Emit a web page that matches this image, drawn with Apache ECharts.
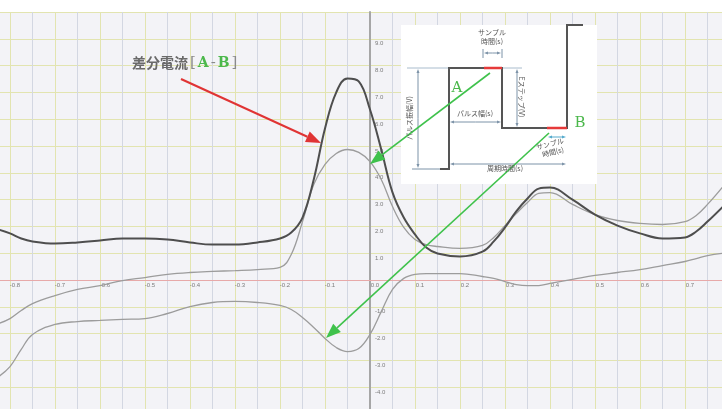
<!DOCTYPE html>
<html>
<head>
<meta charset="utf-8">
<script src="https://cdn.jsdelivr.net/npm/echarts@6.0.0/dist/echarts.min.js"></script>
<style>
  html, body { margin: 0; padding: 0; background: #fff; }
  #chart { width: 722px; height: 409px; }
</style>
</head>
<body>
<div id="chart"></div>
<script>
// 電位 (V)
const potential = [-0.825, -0.8, -0.775, -0.75, -0.7, -0.65, -0.6, -0.55, -0.5, -0.45, -0.4, -0.35, -0.3, -0.25,
  -0.2, -0.175, -0.15, -0.125, -0.1, -0.075, -0.05, -0.025, 0, 0.025, 0.05, 0.075, 0.1, 0.125, 0.15, 0.2,
  0.25, 0.275, 0.3, 0.325, 0.35, 0.375, 0.4, 0.45, 0.5, 0.55, 0.6, 0.65, 0.7, 0.725, 0.75, 0.785]
// 差分電流 [A-B]
const diffCurrent = [1.88, 1.74, 1.55, 1.44, 1.36, 1.40, 1.47, 1.55, 1.55, 1.51, 1.40, 1.32, 1.32, 1.40,
  1.55, 1.77, 2.33, 3.75, 5.65, 7.0, 7.52, 7.41, 6.36, 4.87, 3.27, 2.33, 1.70, 1.21, 0.99, 0.88,
  1.06, 1.44, 1.96, 2.56, 3.04, 3.41, 3.45, 3.0, 2.44, 2.03, 1.74, 1.55, 1.59, 1.81, 2.18, 2.75]
// A点の電流
const currentA = [-1.62, -1.44, -1.14, -0.88, -0.58, -0.35, -0.21, -0.02, 0.09, 0.21, 0.28, 0.32, 0.35, 0.39,
  0.47, 0.95, 2.18, 3.56, 4.31, 4.72, 4.87, 4.76, 4.42, 3.75, 2.74, 1.96, 1.51, 1.32, 1.25, 1.18,
  1.29, 1.59, 2.03, 2.48, 2.89, 3.23, 3.26, 2.82, 2.44, 2.22, 2.11, 2.07, 2.18, 2.41, 2.82, 3.5]
// B点の電流
const currentB = [-3.6, -3.23, -2.59, -2.03, -1.66, -1.55, -1.51, -1.47, -1.44, -1.25, -0.99, -0.84, -0.80, -0.84,
  -0.95, -1.10, -1.40, -1.77, -2.18, -2.52, -2.67, -2.56, -2.03, -1.18, -0.35, 0.06, 0.21, 0.24, 0.24, 0.24,
  0.13, 0.06, -0.06, -0.17, -0.21, -0.21, -0.13, 0.02, 0.17, 0.28, 0.39, 0.54, 0.69, 0.80, 0.91, 1.00]

const toPairs = (ys) => potential.map((x, i) => [x, ys[i]])

function arrow(x1, y1, x2, y2, color, w, head) {
  const a = Math.atan2(y2 - y1, x2 - x1)
  const bx = x2 - head * Math.cos(a)
  const by = y2 - head * Math.sin(a)
  const nx = -Math.sin(a) * head * 0.38
  const ny = Math.cos(a) * head * 0.38
  return [
    { type: 'line', z: 100, shape: { x1: x1, y1: y1, x2: bx, y2: by }, style: { stroke: color, lineWidth: w } },
    { type: 'polygon', z: 100, shape: { points: [[x2, y2], [bx + nx, by + ny], [bx - nx, by - ny]] }, style: { fill: color } }
  ]
}

function seg(x1, y1, x2, y2, color, w) {
  return { type: 'line', z: 100, shape: { x1: x1, y1: y1, x2: x2, y2: y2 }, style: { stroke: color, lineWidth: w || 1 } }
}

// 両矢印 (寸法線)
function dim(x1, y1, x2, y2, color) {
  return [].concat(arrow((x1 + x2) / 2, (y1 + y2) / 2, x1, y1, color, 1, 4),
    arrow((x1 + x2) / 2, (y1 + y2) / 2, x2, y2, color, 1, 4))
}

function label(text, x, y, opt) {
  return Object.assign({
    type: 'text', z: 101, x: x, y: y,
    style: Object.assign({
      text: text, fontSize: 7, fill: '#555', align: 'center', verticalAlign: 'middle',
      fontFamily: 'Noto Sans CJK JP'
    }, opt && opt.style)
  }, opt && opt.el)
}

const dimColor = '#7d93a8'
const wave = '#555'
const green = '#3fc24c'

const inset = [
  { type: 'rect', z: 99, shape: { x: 401, y: 25, width: 196, height: 159 }, style: { fill: '#fff' } },
  seg(407, 68, 449, 68, '#a9bccd'),
  seg(502, 68, 522, 68, '#a9bccd'),
  seg(412, 169, 449, 169, dimColor),
  { type: 'polyline', z: 100, shape: { points: [[440, 169], [449, 169], [449, 68], [502, 68], [502, 128], [567, 128], [567, 25], [583, 25]] },
    style: { stroke: wave, lineWidth: 2, fill: null } },
  seg(484, 68, 502, 68, '#e63a3a', 2.5),
  seg(547, 128, 567, 128, '#e63a3a', 2.5),
  ...dim(418, 69, 418, 168, dimColor),
  ...dim(517, 69, 517, 127, dimColor),
  ...dim(450, 122, 501, 122, dimColor),
  ...dim(450, 164, 566, 164, dimColor),
  seg(483, 49, 483, 58, dimColor),
  seg(502, 49, 502, 58, dimColor),
  ...dim(484, 53, 501, 53, dimColor),
  ...dim(548, 137, 566, 137, '#55aacc'),
  label('サンプル', 492, 32),
  label('時間(s)', 492, 41),
  label('パルス幅(s)', 475, 113),
  label('周期時間(s)', 505, 168),
  label('パルス振幅(V)', 409, 118, { el: { rotation: Math.PI / 2 } }),
  label('Eステップ(V)', 522, 97, { el: { rotation: -Math.PI / 2 } }),
  label('サンプル', 550, 144, { el: { rotation: 0.25 } }),
  label('時間(s)', 553, 152, { el: { rotation: 0.25 } }),
  label('A', 457, 88, { style: { fontSize: 15, fill: '#4cb84c', fontFamily: 'DejaVu Serif' } }),
  label('B', 580, 123, { style: { fontSize: 15, fill: '#4cb84c', fontFamily: 'DejaVu Serif' } })
]

const notes = [
  ...arrow(181, 79, 321, 143, '#e03434', 2, 15),
  ...arrow(490, 73, 370, 164, green, 1.6, 15),
  ...arrow(549, 133, 326, 338, green, 1.6, 15),
  {
    type: 'text', z: 101, x: 132, y: 63,
    style: {
      text: '{g|差分電流}{b|[}{a|A}{b|-}{a|B}{b|]}',
      verticalAlign: 'middle',
      rich: {
        g: { fontSize: 14, fontWeight: 'bold', fill: '#6a6a6a', fontFamily: 'Noto Sans CJK JP' },
        b: { fontSize: 15, fill: '#8a8a8a', fontFamily: 'DejaVu Serif', padding: [0, 2, 0, 2] },
        a: { fontSize: 14, fontWeight: 'bold', fill: '#4cb84c', fontFamily: 'DejaVu Serif' }
      }
    }
  }
]

const chart = echarts.init(document.getElementById('chart'))
chart.setOption({
  backgroundColor: '#fff',
  animation: false,
  grid: {
    left: -12.5,
    right: -8,
    top: 12,
    bottom: -5,
    outerBoundsMode: 'none',
    show: true,
    backgroundColor: '#f3f3f7',
    borderWidth: 0
  },
  xAxis: {
    type: 'value',
    min: -0.85,
    max: 0.8,
    interval: 0.05,
    position: 'bottom',
    // 軸をゼロ位置へ (下端 414px → 0 は 280px)
    offset: -134,
    axisLine: { onZero: false, lineStyle: { color: '#e7a9a9', width: 1 } },
    axisTick: { show: false },
    axisLabel: {
      fontSize: 6,
      color: '#7c7c7c',
      margin: 2,
      padding: [0, 0, 0, 10],
      verticalAlign: 'top',
      showMinLabel: false,
      showMaxLabel: false,
      formatter: (v) => Math.round(Math.abs(v) * 100) % 10 === 0 ? v.toFixed(1) : ''
    },
    splitLine: { show: true, lineStyle: { color: ['#d3d7e2', '#e2e4b0'], width: 1 } }
  },
  yAxis: {
    type: 'value',
    min: -5,
    max: 10,
    interval: 1,
    position: 'left',
    // 左端 -12.5px → 0 は 370px
    offset: -382.5,
    axisLine: { onZero: false, lineStyle: { color: '#a6a6a6', width: 2 } },
    axisTick: { show: false },
    axisLabel: {
      inside: true,
      fontSize: 6,
      color: '#7c7c7c',
      margin: 5,
      verticalAlign: 'top',
      padding: [2, 0, 0, 0],
      formatter: (v) => (v === 0 || v >= 10 || v <= -5) ? '' : v.toFixed(1)
    },
    splitLine: { show: true, lineStyle: { color: '#e2e4b0', width: 1 } }
  },
  series: [
    {
      name: '差分電流',
      type: 'line',
      data: toPairs(diffCurrent),
      smooth: 0.4,
      showSymbol: false,
      lineStyle: { color: '#4e4e4e', width: 2 },
      z: 3
    },
    {
      name: 'A',
      type: 'line',
      data: toPairs(currentA),
      smooth: 0.4,
      showSymbol: false,
      lineStyle: { color: '#9c9c9c', width: 1.3 },
      z: 2
    },
    {
      name: 'B',
      type: 'line',
      data: toPairs(currentB),
      smooth: 0.4,
      showSymbol: false,
      lineStyle: { color: '#9c9c9c', width: 1.3 },
      z: 2
    }
  ],
  graphic: { elements: inset.concat(notes) }
})
</script>
</body>
</html>
